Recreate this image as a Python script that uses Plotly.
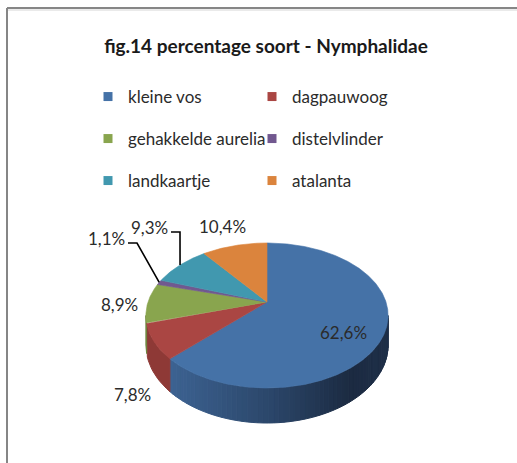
import numpy as np
import plotly.graph_objects as go

# ---------------- data ----------------
categories = ["kleine vos", "dagpauwoog", "gehakkelde aurelia",
              "distelvlinder", "landkaartje", "atalanta"]
percentages = [62.6, 7.8, 8.9, 1.1, 9.3, 10.4]
label_texts = ["62,6%", "7,8%", "8,9%", "1,1%", "9,3%", "10,4%"]
title_text = "fig.14 percentage soort - Nymphalidae"

# ---------------- style / layout ----------------
colors_top = ["#4572A7", "#AA4643", "#89A54E", "#71588F", "#4198AF", "#DB843D"]
colors_side = ["#2d4a6e", "#8E3936", "#6E853E", "#5A4673", "#33798C", "#B06A30"]
W, H = 517, 463
CX, CY = 267, 302          # pie apex (pixels)
A, B, K = 119, 70, 0.186   # horizontal / vertical radius, perspective factor
DEPTH = 28.5
FONT = "Lato, 'Open Sans', sans-serif"
TXT = "#2b2b2b"
label_xy = [(343, 332), (132, 394), (119, 304), (106, 238), (149, 227), (222, 226)]
leader_for = [False, False, False, True, True, False]
legend_rows = [97, 139, 181]


def rim(theta_deg, drop=0.0):
    t = np.radians(theta_deg)
    w = 1 + K * np.cos(t)
    return CX + A * np.sin(t) / w, CY - B * np.cos(t) / w + drop / w


def lerp_color(stops, x):
    xs = [s[0] for s in stops]
    cols = np.array([s[1] for s in stops], dtype=float)
    r = np.interp(x, xs, cols[:, 0])
    g = np.interp(x, xs, cols[:, 1])
    b = np.interp(x, xs, cols[:, 2])
    return f"rgb({int(r)},{int(g)},{int(b)})"


blue_side_stops = [(165, (62, 100, 148)), (267, (44, 72, 108)),
                   (350, (28, 43, 66)), (390, (31, 48, 73))]

total = sum(percentages)
cum = np.concatenate([[0], np.cumsum(percentages)]) / total * 360.0
th_r = np.degrees(np.arccos(-K))
th_l = 360 - th_r

fig = go.Figure()

# side walls
for i in range(len(categories)):
    a, b = cum[i], cum[i + 1]
    lo, hi = max(a, th_r), min(b, th_l)
    if lo >= hi:
        continue
    nstrips = 60 if i == 0 else 1
    edges = np.linspace(lo, hi, nstrips + 1)
    for j in range(nstrips):
        t = np.linspace(edges[j], edges[j + 1], 12)
        xt, yt = rim(t)
        xb, yb = rim(t[::-1], DEPTH)
        xs = np.concatenate([xt, xb, xt[:1]])
        ys = np.concatenate([yt, yb, yt[:1]])
        if i == 0:
            col = lerp_color(blue_side_stops, float(np.mean(xt)))
        else:
            col = colors_side[i]
        fig.add_trace(go.Scatter(x=xs, y=ys, mode="lines", fill="toself",
                                 fillcolor=col, line=dict(color=col, width=1),
                                 hoverinfo="skip", showlegend=False))

# top faces
for i in range(len(categories)):
    a, b = cum[i], cum[i + 1]
    t = np.linspace(a, b, max(4, int((b - a) * 2)))
    xr, yr = rim(t)
    xs = np.concatenate([[CX], xr, [CX]])
    ys = np.concatenate([[CY], yr, [CY]])
    fig.add_trace(go.Scatter(x=xs, y=ys, mode="lines", fill="toself",
                             fillcolor=colors_top[i],
                             line=dict(color=colors_top[i], width=0.6),
                             hoverinfo="skip", showlegend=False))

# leader lines
for i in range(len(categories)):
    if not leader_for[i]:
        continue
    mid = (cum[i] + cum[i + 1]) / 2
    ex, ey = rim(mid)
    lx, ly = label_xy[i]
    sx, sy = lx + 22, ly + 5
    fig.add_trace(go.Scatter(x=[sx, sx + 9, ex], y=[sy, sy, ey], mode="lines",
                             line=dict(color="black", width=1.6),
                             hoverinfo="skip", showlegend=False))

# data labels
for i, txt in enumerate(label_texts):
    lx, ly = label_xy[i]
    fig.add_annotation(x=lx, y=ly, text=txt, showarrow=False, xref="x", yref="y",
                       font=dict(family=FONT, size=17, color=TXT))

# legend entries (three rows, two columns)
legend_names = ["legend", "legend2", "legend3"]
for i, cat in enumerate(categories):
    fig.add_trace(go.Scatter(x=[None], y=[None], mode="markers", name=cat,
                             marker=dict(symbol="square", size=9, color=colors_top[i]),
                             legend=legend_names[i // 2]))

leg_common = dict(orientation="h", xanchor="left", yanchor="middle",
                  x=88 / W, entrywidth=119, entrywidthmode="pixels",
                  font=dict(family=FONT, size=17, color=TXT),
                  bgcolor="rgba(0,0,0,0)", borderwidth=0, itemclick=False,
                  itemdoubleclick=False, tracegroupgap=0)

# border of the chart area
shapes = [
    dict(type="line", x0=7, y0=8, x1=W, y1=8, xref="x", yref="y",
         line=dict(color="#868686", width=2)),
    dict(type="line", x0=7, y0=8, x1=7, y1=H, xref="x", yref="y",
         line=dict(color="#868686", width=2)),
    dict(type="line", x0=8, y0=10, x1=W, y1=10, xref="x", yref="y",
         line=dict(color="#d6d6d6", width=1)),
]

fig.update_layout(
    width=W, height=H, margin=dict(l=0, r=0, t=0, b=0),
    paper_bgcolor="white", plot_bgcolor="white",
    xaxis=dict(range=[0, W], visible=False, fixedrange=True),
    yaxis=dict(range=[H, 0], visible=False, fixedrange=True),
    title=dict(text=title_text, x=266 / W, y=1 - 46 / H, xref="paper", yref="container",
               xanchor="center", yanchor="middle",
               font=dict(family=FONT, size=19, color="#1a1a1a", weight="bold")),
    legend=dict(y=1 - legend_rows[0] / H, **leg_common),
    legend2=dict(y=1 - legend_rows[1] / H, **leg_common),
    legend3=dict(y=1 - legend_rows[2] / H, **leg_common),
    shapes=shapes,
    showlegend=True,
)

fig.write_html("out.html", config={"displayModeBar": False},
               post_script="document.body.style.margin='0';")
